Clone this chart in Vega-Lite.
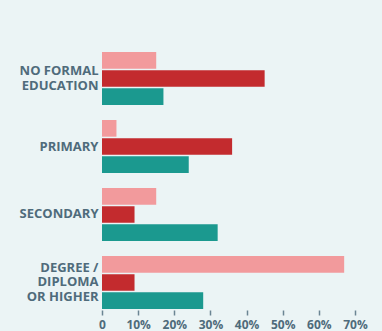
{
  "$schema": "https://vega.github.io/schema/vega-lite/v6.json",
  "autosize": {"type": "none"},
  "width": 253,
  "height": 257,
  "padding": {"left": 102, "top": 52, "right": 27, "bottom": 22},
  "background": "#ebf4f5",
  "data": {
    "values": [
      {"level": "NO FORMAL\nEDUCATION", "series": "Series 1", "value": 15},
      {"level": "NO FORMAL\nEDUCATION", "series": "Series 2", "value": 45},
      {"level": "NO FORMAL\nEDUCATION", "series": "Series 3", "value": 17},
      {"level": "PRIMARY", "series": "Series 1", "value": 4},
      {"level": "PRIMARY", "series": "Series 2", "value": 36},
      {"level": "PRIMARY", "series": "Series 3", "value": 24},
      {"level": "SECONDARY", "series": "Series 1", "value": 15},
      {"level": "SECONDARY", "series": "Series 2", "value": 9},
      {"level": "SECONDARY", "series": "Series 3", "value": 32},
      {"level": "DEGREE /\nDIPLOMA\nOR HIGHER", "series": "Series 1", "value": 67},
      {"level": "DEGREE /\nDIPLOMA\nOR HIGHER", "series": "Series 2", "value": 9},
      {"level": "DEGREE /\nDIPLOMA\nOR HIGHER", "series": "Series 3", "value": 28}
    ]
  },
  "config": {
    "view": {"stroke": null},
    "font": "Open Sans"
  },
  "mark": {"type": "bar"},
  "encoding": {
    "y": {
      "field": "level",
      "type": "nominal",
      "sort": null,
      "scale": {"paddingInner": 0.22, "paddingOuter": 0},
      "axis": {
        "title": null,
        "domain": false,
        "ticks": false,
        "labelPadding": 4,
        "labelFont": "Open Sans",
        "labelFontWeight": "bold",
        "labelFontSize": 13,
        "labelColor": "#4f6b7b",
        "labelLineHeight": 14.5,
        "labelOverlap": false,
        "labelBound": false,
        "labelOffset": {
          "condition": [
            {"test": "indexof(datum.value, 'DEGREE') >= 0", "value": -14.5},
            {"test": "indexof(datum.value, 'NO FORMAL') >= 0", "value": -7.5}
          ],
          "value": 0
        },
        "labelExpr": "split(datum.value, '\\n')"
      }
    },
    "yOffset": {
      "field": "series",
      "type": "nominal",
      "scale": {"paddingInner": 0.08, "paddingOuter": 0}
    },
    "x": {
      "field": "value",
      "type": "quantitative",
      "scale": {"domain": [0, 70], "nice": false},
      "axis": {
        "title": null,
        "grid": false,
        "domain": false,
        "values": [0, 10, 20, 30, 40, 50, 60, 70],
        "labelExpr": "datum.value == 0 ? '0' : datum.value + '%'",
        "labelOverlap": false,
        "labelFlush": false,
        "labelBound": false,
        "tickColor": "#6b8593",
        "tickWidth": 1.5,
        "tickSize": 5,
        "offset": 1,
        "labelPadding": 4,
        "labelFont": "Open Sans",
        "labelFontWeight": "bold",
        "labelFontSize": 12,
        "labelColor": "#4f6b7b"
      }
    },
    "color": {
      "field": "series",
      "type": "nominal",
      "scale": {"range": ["#f29a9c", "#c32b2e", "#1b998f"]},
      "legend": null
    }
  }
}
